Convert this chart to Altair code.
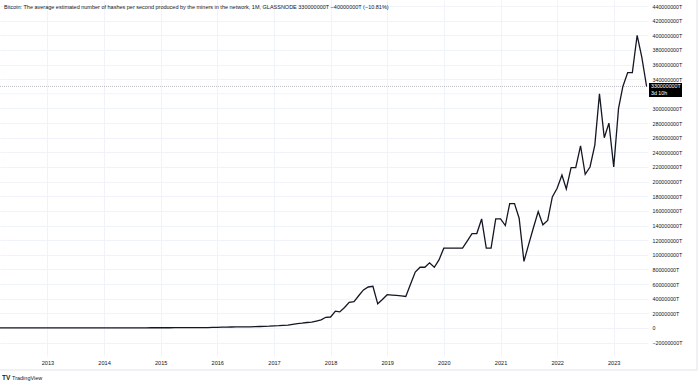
import altair as alt
import pandas as pd

# Monthly hash rate, in millions of T (so 400 -> "400000000T"), Mar 2012 .. Aug 2023
h2012 = [0.00001, 0.00001, 0.00001, 0.00002, 0.00002, 0.00002, 0.00002, 0.00002, 0.00002, 0.00002]
h2013 = [0.00002, 0.00003, 0.00004, 0.00006, 0.00009, 0.0001, 0.00025, 0.0005, 0.001, 0.002, 0.004, 0.008]
h2014 = [0.012, 0.02, 0.03, 0.045, 0.07, 0.09, 0.12, 0.18, 0.22, 0.25, 0.28, 0.3]
h2015 = [0.31, 0.33, 0.34, 0.35, 0.36, 0.38, 0.4, 0.42, 0.45, 0.5, 0.6, 0.75]
h2016 = [0.9, 1.1, 1.2, 1.3, 1.4, 1.5, 1.5, 1.6, 1.8, 2.0, 2.2, 2.5]
h2017 = [3.0, 3.2, 3.6, 4.0, 5.0, 6.0, 6.5, 7.5, 8.0, 9.5, 11.0, 14.6]
h2018 = [15, 23, 22, 28, 35, 36, 44, 52, 56, 57, 33, 39]
h2019 = [45.5, 45, 44.5, 44, 43, 60, 76.5, 83, 83, 89, 83, 93]
h2020 = [109, 109, 109, 109, 109, 119, 129, 129, 149, 109, 109, 149]
h2021 = [149, 140, 170, 170, 150, 91, 114, 137, 159, 141, 147, 179]
h2022 = [191, 209, 190, 219, 219, 249, 210, 220, 250, 320, 260, 280]
h2023 = [220, 300, 330, 349, 349, 400, 370, 330]

values = h2012 + h2013 + h2014 + h2015 + h2016 + h2017 + h2018 + h2019 + h2020 + h2021 + h2022 + h2023
dates = pd.date_range("2012-03-01", periods=len(values), freq="MS")
df = pd.DataFrame({"date": dates, "hashrate": values})

year_ticks = [2013, 2014, 2015, 2016, 2017, 2018, 2019, 2020, 2021, 2022, 2023]
# 320 is hidden behind the last-value label in the reference
y_ticks = [-20, 0, 20, 40, 60, 80, 100, 120, 140, 160, 180, 200, 220, 240, 260,
           280, 300, 340, 360, 380, 400, 420, 440]
grid_values = [320]

title_text = ("Bitcoin: The average estimated number of hashes per second produced by the miners "
              "in the network, 1M, GLASSNODE  330000000T  \u221240000000T (\u221210.81%)")
countdown = "3d 10h"

FONT = "Liberation Sans"
TXT = "#131722"
GRID = "#f0f3fa"

y_scale = alt.Scale(domain=[-38.3, 448.2], nice=False, zero=False)
y_axis = alt.Axis(orient="right", values=y_ticks, title=None, labelFontSize=5.3,
                  labelColor=TXT, labelFont=FONT, ticks=False, domain=False,
                  labelPadding=4, grid=True, gridColor=GRID, labelFlush=False,
                  labelOverlap=False, labelBound=False,
                  labelExpr="datum.value == 0 ? '0' : format(datum.value * 1000000, 'd') + 'T'")

x_enc = alt.X(
    "date:T",
    scale=alt.Scale(domain=[alt.DateTime(year=2012, month=3, date=1),
                            alt.DateTime(year=2023, month=8, date=10)]),
    axis=alt.Axis(values=[alt.DateTime(year=y, month=1, date=1) for y in year_ticks],
                  format="%Y", title=None, labelFontSize=5.6, labelColor=TXT,
                  labelFont=FONT, ticks=False, domain=False, labelPadding=4,
                  grid=True, gridColor=GRID, labelFlush=False, labelOverlap=False),
)
y_enc = alt.Y("hashrate:Q", scale=y_scale, axis=y_axis)

line = alt.Chart(df).mark_line(color=TXT, strokeWidth=1.3).encode(x=x_enc, y=y_enc)

extra_grid = alt.Chart(pd.DataFrame({"hashrate": grid_values})).mark_rule(
    color=GRID, strokeWidth=1).encode(y=y_enc, x=alt.value(0), x2=alt.value(648))

last = df.tail(1).copy()
last["label"] = [f"{int(round(v * 1e6))}T" for v in last["hashrate"]]
last["countdown"] = countdown

price_rule = alt.Chart(last).mark_rule(color="#9598a1", strokeWidth=0.6, strokeDash=[1, 1]).encode(
    y=y_enc, x=alt.value(0), x2=alt.value(648))
price_box = alt.Chart(last).mark_rect(color="#000000", yOffset=-3.5, y2Offset=10.5).encode(
    y=y_enc, y2=alt.Y2("hashrate:Q"), x=alt.value(649), x2=alt.value(682))
price_txt = alt.Chart(last).mark_text(color="white", align="left", baseline="middle",
                                      fontSize=5.3, font=FONT).encode(
    y=y_enc, x=alt.value(651), text="label:N")
count_txt = alt.Chart(last).mark_text(color="white", align="left", baseline="middle",
                                      fontSize=5.3, font=FONT, dy=7).encode(
    y=y_enc, x=alt.value(651), text="countdown:N")

ann = pd.DataFrame({"t": [title_text]})
title = alt.Chart(ann).mark_text(align="left", baseline="middle", fontSize=5.5, font=FONT,
                                 color=TXT).encode(x=alt.value(4), y=alt.value(7), text="t:N")

brand = pd.DataFrame({"t": ["TradingView"], "logo": ["TV"]})
brand_txt = alt.Chart(brand).mark_text(align="left", baseline="middle", fontSize=5.5, font=FONT,
                                       color=TXT).encode(x=alt.value(12), y=alt.value(378), text="t:N")
brand_logo = alt.Chart(brand).mark_text(align="left", baseline="middle", fontSize=6.5, font=FONT,
                                        fontWeight="bold", color=TXT).encode(
    x=alt.value(2), y=alt.value(378), text="logo:N")

border_bottom = alt.Chart(brand).mark_rule(color="#e0e3eb", strokeWidth=1).encode(
    x=alt.value(0), x2=alt.value(697), y=alt.value(370))
border_right = alt.Chart(brand).mark_rule(color="#e0e3eb", strokeWidth=1).encode(
    x=alt.value(697), y=alt.value(0), y2=alt.value(370))

chart = alt.layer(
    extra_grid, price_rule, line, price_box, price_txt, count_txt, title, brand_logo, brand_txt,
    border_bottom, border_right,
).properties(
    width=648, height=356,
    autosize=alt.AutoSizeParams(type="none"),
    padding={"left": 0, "top": 0, "right": 52, "bottom": 30},
    background="white",
).configure_view(stroke=None).configure_axis(labelOverlap=False)

chart.save("out.html", embed_options={"renderer": "svg", "actions": False})
